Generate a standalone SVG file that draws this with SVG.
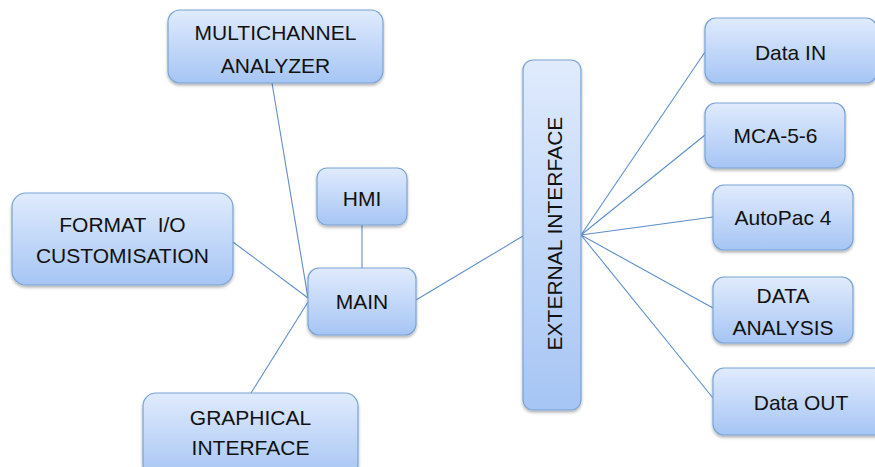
<svg xmlns="http://www.w3.org/2000/svg" width="875" height="467" viewBox="0 0 875 467">
<defs>
<linearGradient id="g" x1="0" y1="0" x2="0" y2="1">
<stop offset="0" stop-color="#e0ebfd"/>
<stop offset="1" stop-color="#a6c5f4"/>
</linearGradient>
<filter id="sh" x="-10%" y="-10%" width="120%" height="130%">
<feDropShadow dx="0" dy="2" stdDeviation="1.5" flood-color="#000" flood-opacity="0.3"/>
</filter>
</defs>
<style>
.n rect{fill:url(#g);stroke:#7aa3d6;stroke-width:1.2;filter:url(#sh)}
.n text{font-family:"Liberation Sans",Arial,sans-serif;font-size:21px;fill:#111;text-anchor:middle}
#edges line{stroke:#5f8ecb;stroke-width:1.1}
</style>
<rect width="875" height="467" fill="#fff"/>
<g id="edges">
<line x1="272" y1="83" x2="308" y2="298"/>
<line x1="362" y1="225" x2="362" y2="268"/>
<line x1="233" y1="242" x2="308" y2="298"/>
<line x1="251" y1="393" x2="308" y2="302"/>
<line x1="416" y1="300" x2="523" y2="236"/>
<line x1="581" y1="235" x2="705" y2="52"/>
<line x1="581" y1="235" x2="705" y2="135"/>
<line x1="581" y1="235" x2="713" y2="217"/>
<line x1="581" y1="235" x2="713" y2="308"/>
<line x1="581" y1="235" x2="713" y2="398"/>
</g>
<g id="multichannel" class="n">
<rect x="168" y="10" width="215" height="73" rx="12"/>
<text x="275.5" y="40">MULTICHANNEL</text>
<text x="275.5" y="72.5">ANALYZER</text>
</g>
<g id="hmi" class="n">
<rect x="317" y="168" width="90" height="57" rx="10"/>
<text x="362" y="206">HMI</text>
</g>
<g id="main" class="n">
<rect x="308" y="268" width="108" height="67" rx="11"/>
<text x="362" y="309">MAIN</text>
</g>
<g id="format" class="n">
<rect x="12" y="193" width="221" height="92" rx="14"/>
<text x="122.5" y="231.5" xml:space="preserve">FORMAT  I/O</text>
<text x="122.5" y="263">CUSTOMISATION</text>
</g>
<g id="graphical" class="n">
<rect x="143" y="393" width="215" height="85" rx="13"/>
<text x="250.5" y="425">GRAPHICAL</text>
<text x="250.5" y="455">INTERFACE</text>
</g>
<g id="external" class="n">
<rect x="523" y="60" width="58" height="350" rx="10"/>
<text transform="translate(562,233.5) rotate(-90)">EXTERNAL INTERFACE</text>
</g>
<g id="datain" class="n">
<rect x="705" y="18" width="172" height="65" rx="11"/>
<text x="790.5" y="60">Data IN</text>
</g>
<g id="mca" class="n">
<rect x="705" y="103" width="140" height="65" rx="11"/>
<text x="775.5" y="143">MCA-5-6</text>
</g>
<g id="autopac" class="n">
<rect x="713" y="185" width="140" height="65" rx="11"/>
<text x="783" y="225">AutoPac 4</text>
</g>
<g id="analysis" class="n">
<rect x="713" y="277" width="140" height="66" rx="11"/>
<text x="783" y="303">DATA</text>
<text x="783" y="335">ANALYSIS</text>
</g>
<g id="dataout" class="n">
<rect x="713" y="368" width="176" height="67" rx="11"/>
<text x="801" y="410">Data OUT</text>
</g>
</svg>
